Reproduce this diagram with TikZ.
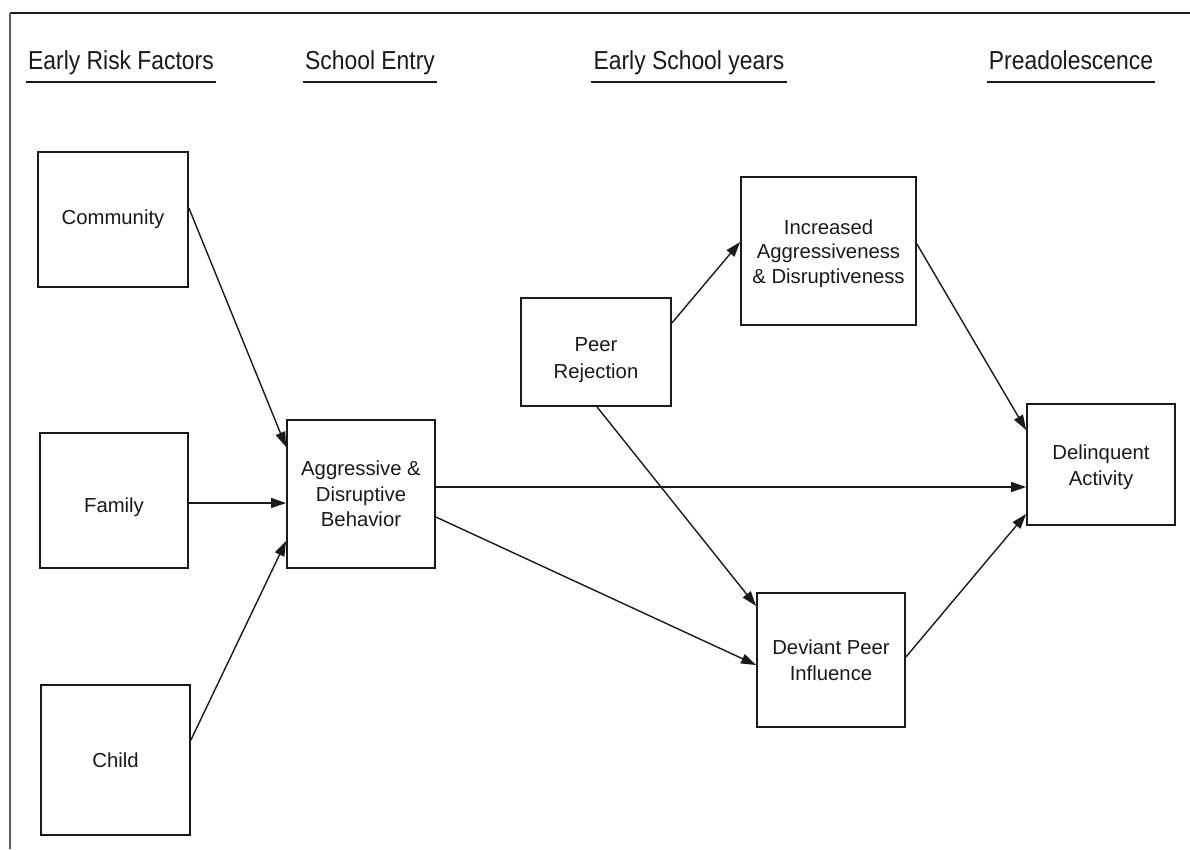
\documentclass[tikz,border=0pt]{standalone}
\usepackage{fontspec}
\setmainfont{Liberation Sans}
\newfontfamily\hdrfont[FakeStretch=0.88]{Liberation Sans}
\usetikzlibrary{arrows.meta}
\definecolor{ink}{HTML}{1A1A1A}
\newcommand{\shiftdown}[2]{\raisebox{-#1}[0pt][0pt]{\begin{tabular}{@{}c@{}}#2\end{tabular}}}
\tikzset{
  box/.style={draw=ink, line width=1.8pt, align=center, text=ink,
    font=\fontsize{20.3}{25.5}\selectfont, inner sep=0pt},
  hdr/.style={text=ink, font=\hdrfont\fontsize{26}{28}\selectfont, inner xsep=2pt, anchor=base},
  ul/.style={draw=ink, line width=1.8pt},
  arr/.style={draw=ink, line width=1.4pt, -{Triangle[length=15pt,width=10pt]}},
  frame/.style={draw=ink, line width=2.2pt}
}
\begin{document}
\begin{tikzpicture}[x=1pt,y=-1pt]
\useasboundingbox (0,0) rectangle (1190,849);
% frame
\coordinate (fL) at (10,849);
\coordinate (fTL) at (10,13);
\coordinate (fTR) at (1190,13);
\draw[frame] (fTR) -- (fTL);
\draw[draw=ink!70, line width=1.2pt] (fTL) -- (fL);
% headers
\node[hdr] (h1) at (121,69) {Early Risk Factors};
\node[hdr] (h2) at (370,69) {School Entry};
\node[hdr] (h3) at (689,69) {Early School years};
\node[hdr] (h4) at (1071,69) {Preadolescence};
\foreach \h in {h1,h2,h3,h4}
  \draw[ul] ([yshift=-13pt]\h.base west) -- ([yshift=-13pt]\h.base east);
% boxes
\node[box, minimum width=150pt, minimum height=135pt] (comm) at (113,219.5) {Community};
\node[box, minimum width=148pt, minimum height=135pt] (fam) at (114,500.5) {\raisebox{-11.5pt}[0pt][0pt]{Family}};
\node[box, minimum width=149pt, minimum height=150pt] (child) at (115.5,760) {Child};
\node[box, minimum width=148pt, minimum height=148pt] (aggr) at (361,494) {Aggressive \&\\Disruptive\\Behavior};
\node[box, minimum width=150pt, minimum height=108pt] (peer) at (596,352) {\shiftdown{13pt}{Peer\\[1pt]Rejection}};
\node[box, minimum width=175pt, minimum height=148pt] (incr) at (828.5,251) {\shiftdown{8pt}{Increased\\[-1pt]Aggressiveness\\[-1pt]\& Disruptiveness}};
\node[box, minimum width=148pt, minimum height=134pt] (dev) at (831,660) {Deviant Peer\\Influence};
\node[box, minimum width=148pt, minimum height=121pt] (del) at (1101,464.5) {\shiftdown{8pt}{Delinquent\\Activity}};
% arrows
\draw[arr] ([yshift=11.5pt]comm.east) -- ([yshift=47pt]aggr.west);
\draw[arr] ([yshift=-2.5pt]fam.east) -- ([yshift=-2.5pt]fam.east -| aggr.west);
\draw[arr] ([yshift=20pt]child.east) -- ([yshift=-47pt]aggr.west);
\draw[arr] ([yshift=7pt]aggr.east) -- ([yshift=7pt]aggr.east -| del.west);
\draw[arr] ([yshift=-23pt]aggr.east) -- ([yshift=-5pt]dev.west);
\draw[arr] ([yshift=29pt]peer.east) -- ([yshift=9pt]incr.west);
\draw[arr] ([xshift=1pt]peer.south) -- ([yshift=54pt]dev.west);
\draw[arr] ([yshift=7pt]incr.east) -- ([yshift=34.5pt]del.west);
\draw[arr] ([yshift=3pt]dev.east) -- ([yshift=-49.5pt]del.west);
\end{tikzpicture}
\end{document}
